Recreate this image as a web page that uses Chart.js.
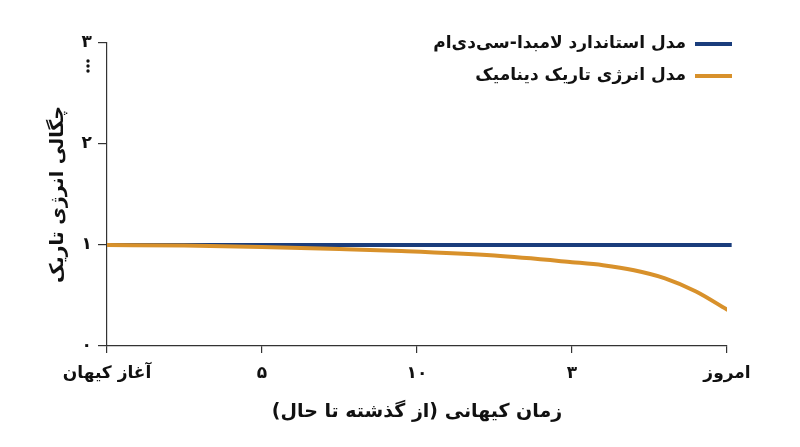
<!DOCTYPE html>
<html><head><meta charset="utf-8">
<script src="https://cdn.jsdelivr.net/npm/chart.js@4"></script>
<style>html,body{margin:0;padding:0;background:#fff}#wrap{width:800px;height:447px;position:relative}</style>
</head><body><div id="wrap"><canvas id="c" dir="rtl"></canvas></div>
<script>
const xTickLabels = ['آغاز کیهان', '۵', '۱۰', '۳', 'امروز'];
const yTickLabels = ['۰', '۱', '۲', '۳'];
const seriesNames = ['مدل استاندارد لامبدا-سی‌دی‌ام', 'مدل انرژی تاریک دینامیک'];
const lcdmX = [0, 4.03];
const lcdmY = [1, 1];
const dynX = [0, 0.5, 1, 1.5, 1.9, 2.5, 3, 3.2, 3.4, 3.6, 3.8, 4];
const dynY = [1, 0.995, 0.98, 0.96, 0.94, 0.895, 0.83, 0.80, 0.75, 0.67, 0.54, 0.36];
const xTitle = 'زمان کیهانی (از گذشته تا حال)';
const yTitle = 'چگالی انرژی تاریک';

const FONT = '"DejaVu Sans", sans-serif';
const AXIS = '#333';
const BLUE = '#1a3d7c';
const ORANGE = '#d8912b';

const pts = (xs, ys) => xs.map((x, i) => ({x, y: ys[i]}));

const decor = {
  id: 'decor',
  afterDraw(chart) {
    const ctx = chart.ctx;
    ctx.save();
    ctx.direction = 'rtl';
    ctx.font = 'bold 17px ' + FONT;
    ctx.textAlign = 'right';
    ctx.textBaseline = 'middle';
    chart.data.datasets.forEach((ds, i) => {
      const y = 44 + i * 32;
      ctx.strokeStyle = ds.borderColor;
      ctx.lineWidth = 4;
      ctx.beginPath(); ctx.moveTo(695, y); ctx.lineTo(732, y); ctx.stroke();
      ctx.fillStyle = '#111';
      ctx.fillText(ds.label, 686, y);
    });
    // vertical ellipsis under top tick label (axis break hint)
    const ys = chart.scales.y;
    const yTop = ys.getPixelForValue(3);
    ctx.fillStyle = '#111';
    [18, 23, 28].forEach(d => { ctx.beginPath(); ctx.arc(88, yTop + d, 1.7, 0, Math.PI * 2); ctx.fill(); });
    ctx.restore();
  }
};

new Chart(document.getElementById('c'), {
  type: 'line',
  data: {
    datasets: [
      { label: seriesNames[0], data: pts(lcdmX, lcdmY), borderColor: BLUE, borderWidth: 4, pointRadius: 0, clip: false, tension: 0, order: 2 },
      { label: seriesNames[1], data: pts(dynX, dynY), borderColor: ORANGE, borderWidth: 4, pointRadius: 0, cubicInterpolationMode: 'monotone', borderCapStyle: 'round', order: 1 }
    ]
  },
  options: {
    responsive: true,
    maintainAspectRatio: false,
    animation: false,
    layout: { padding: { left: 43, right: 73, top: 43, bottom: 20 } },
    plugins: { legend: { display: false }, tooltip: { enabled: false } },
    scales: {
      x: {
        type: 'linear', min: 0, max: 4,
        afterFit(s) { s.height = 81; },
        grid: { drawOnChartArea: false, drawTicks: true, tickLength: 7, color: AXIS, lineWidth: 1.2 },
        border: { color: AXIS, width: 1.2 },
        ticks: { stepSize: 1, padding: 10, color: '#111', font: { family: FONT, size: 17, weight: 'bold' }, maxRotation: 0,
          callback: (v) => xTickLabels[Math.round(v)] },
        title: { display: true, text: xTitle, color: '#111', font: { family: FONT, size: 19, weight: 'bold' } }
      },
      y: {
        min: 0, max: 3,
        afterFit(s) { s.width = 64; },
        grid: { drawOnChartArea: false, drawTicks: true, tickLength: 9, color: AXIS, lineWidth: 1.2 },
        border: { color: AXIS, width: 1.2 },
        ticks: { stepSize: 1, padding: 6, color: '#111', font: { family: FONT, size: 17, weight: 'bold' },
          callback: (v) => yTickLabels[Math.round(v)] },
        title: { display: true, text: yTitle, color: '#111', font: { family: FONT, size: 19, weight: 'bold' } }
      }
    }
  },
  plugins: [decor]
});
</script></body></html>
